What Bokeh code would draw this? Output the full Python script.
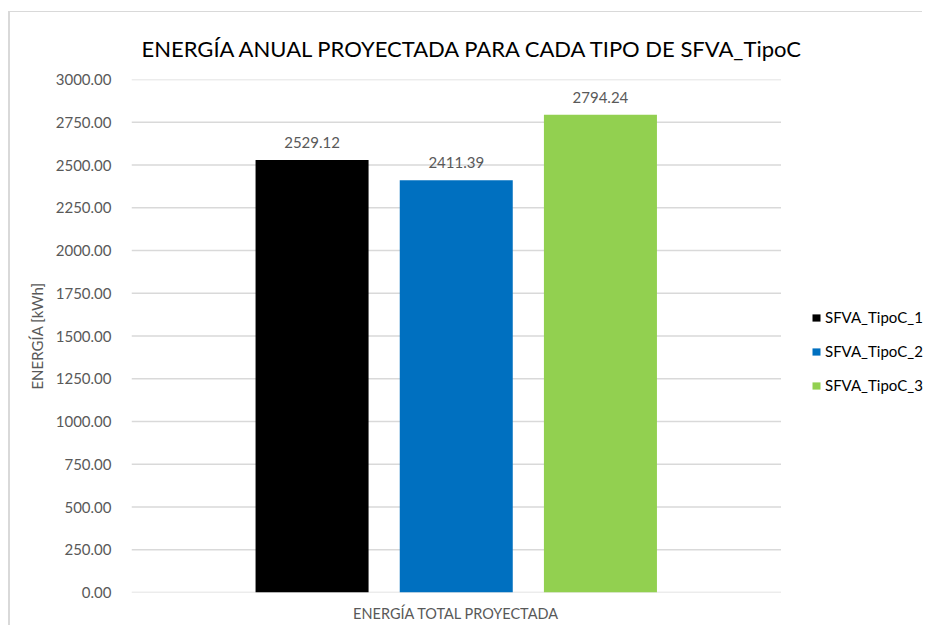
from bokeh.plotting import figure
from bokeh.models import (ColumnDataSource, Range1d, LabelSet, Legend, LegendItem, FixedTicker,
                          NumeralTickFormatter, Title)
from bokeh.core.properties import value
from bokeh.embed import file_html
from bokeh.resources import INLINE

category = "ENERGÍA TOTAL PROYECTADA"
series = ["SFVA_TipoC_1", "SFVA_TipoC_2", "SFVA_TipoC_3"]
values = [2529.12, 2411.39, 2794.24]
colors = ["#000000", "#0070C0", "#92D050"]
y_ticks = [0, 250, 500, 750, 1000, 1250, 1500, 1750, 2000, 2250, 2500, 2750, 3000]
title_text = "ENERGÍA ANUAL PROYECTADA PARA CADA TIPO DE SFVA_TipoC"
y_label = "ENERGÍA [kWh]"

FONT = "Lato"
GRAY = "#595959"

# category occupies x in [0, 1]; bars are grouped around its centre (0.5)
CAT_CENTER = 0.5
BAR_STEP = 0.222
BAR_WIDTH = 0.174
n = len(series)
bar_x = [CAT_CENTER + (i - (n - 1) / 2) * BAR_STEP for i in range(n)]

W = 914
# canvas origin on the page is (10, 12): 8/11 px margin + css border
p = figure(width=W, height=614, x_range=Range1d(0, (W - 121) / 649.5), y_range=Range1d(0, 3000),
           output_backend="svg", toolbar_location=None, margin=(11, 0, 0, 8),
           min_border_left=121, min_border_right=0, min_border_top=67, min_border_bottom=34)
p.styles = {"border-left": "2px solid #d9d9d9", "border-top": "1px solid #d9d9d9"}
p.title = None
p.outline_line_color = None
p.background_fill_color = "white"
p.border_fill_color = "white"

p.add_layout(Title(text=title_text, align="left", offset=10, text_font=FONT, text_font_size="22px",
                   text_font_style="normal", text_color="#000000", standoff=36), "above")

# horizontal gridlines only across the category area
p.segment(x0=0, x1=1, y0=y_ticks, y1=y_ticks, line_color="#d9d9d9", line_width=1.5)

items = []
for s, v, c, x in zip(series, values, colors, bar_x):
    src = ColumnDataSource(dict(x=[x], top=[v], lab=[f"{v:.2f}"]))
    r = p.vbar(x="x", top="top", width=BAR_WIDTH, source=src, fill_color=c, line_color=None)
    items.append(LegendItem(label=s, renderers=[r]))
    p.add_layout(LabelSet(x="x", y="top", text="lab", source=src,
                          text_align="center", text_baseline="alphabetic", y_offset=12,
                          text_font=value(FONT), text_font_size=value("15px"), text_color=GRAY))

legend = Legend(items=items, location=(680, 197), orientation="vertical",
                glyph_width=10, glyph_height=9, label_standoff=4, label_height=20, spacing=14,
                padding=0, margin=0, border_line_color=None, background_fill_alpha=0,
                label_text_font=FONT, label_text_font_size="15px", label_text_color="#000000")
p.add_layout(legend, "center")

p.yaxis.ticker = FixedTicker(ticks=y_ticks)
p.yaxis.formatter = NumeralTickFormatter(format="0.00")
p.yaxis.axis_label = y_label
p.yaxis.axis_label_text_font = FONT
p.yaxis.axis_label_text_font_size = "15px"
p.yaxis.axis_label_text_font_style = "normal"
p.yaxis.axis_label_text_color = GRAY
p.yaxis.axis_label_standoff = 7
p.yaxis.major_label_standoff = 14
p.yaxis.major_label_text_font = FONT
p.yaxis.major_label_text_font_size = "15px"
p.yaxis.major_label_text_color = GRAY

p.xaxis.ticker = FixedTicker(ticks=[CAT_CENTER])
p.xaxis.major_label_overrides = {CAT_CENTER: category}
p.xaxis.major_label_text_font = FONT
p.xaxis.major_label_text_font_size = "14.5px"
p.xaxis.major_label_text_color = GRAY
p.xaxis.major_label_standoff = 6

for ax in (p.xaxis, p.yaxis):
    ax.axis_line_color = None
    ax.major_tick_line_color = None
    ax.minor_tick_line_color = None

p.xgrid.grid_line_color = None
p.ygrid.grid_line_color = None

open("out.html", "w").write(file_html(p, INLINE))
